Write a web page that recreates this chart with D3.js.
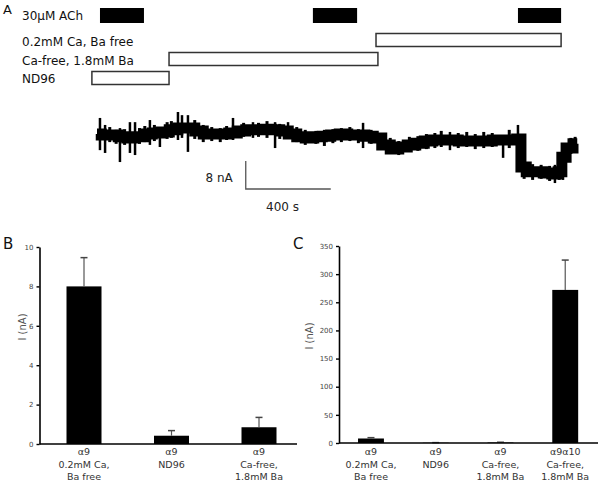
<!DOCTYPE html>
<html><head><meta charset="utf-8">
<script src="https://cdn.jsdelivr.net/npm/d3@7"></script>
<style>body{margin:0;background:#fff} svg{display:block} text{font-family:"DejaVu Sans",sans-serif}</style>
</head><body><svg id="c" width="601" height="484"></svg>
<script>
// ---------- Panel A data ----------
const traceTime = [0,40,80,120,160,200,240,280,320,360,400,440,480,520,560,600,640,680,720,760,800,840,880,920,960,1000,1040,1080,1120,1160,1200,1240,1280,1320,1360,1400,1440,1480,1520,1560,1600,1640,1680,1720,1760,1800,1840,1880,1920,1960,1990,2000,2040,2080,2120,2160,2180,2195,2220,2260];
const traceCurrent = [-0.3,-0.6,-0.6,-1.1,-1.4,-1.1,-0.3,0,0.3,0.9,1.4,1.4,0.6,-0.3,-0.3,-0.3,0,0.6,0.9,0.9,1.1,0.9,0.6,-0.3,-1.1,-1.4,-1.1,-0.9,-0.6,-0.3,-0.6,-0.6,-0.9,-1.4,-3.4,-4.6,-4.0,-3.4,-2.9,-2.3,-2.0,-2.0,-2.0,-2.3,-2.3,-2.3,-2.3,-2.0,-2.0,-2.0,-1.7,-9.7,-11.1,-11.1,-11.4,-11.7,-11.1,-6.9,-4.3,-3.1];
// large spikes: [time s, low nA, high nA]
const traceSpikes = [[14,-4.9,4.3],[38,-5.7,2.3],[108,-8.3,1.4],[155,-5.7,3.1],[179,-6.3,3.1],[249,-3.4,3.7],[296,-4.0,1.4],[381,-2,6.0],[400,-1.4,5.1],[428,-5.4,5.1],[640,-2,4.3],[734,-1.4,3.1],[838,-4.3,3.1],[899,-1.4,3.1],[1252,-4.3,2.9],[1661,-4.9,0.3],[1911,-7.1,-0.6],[1981,-3.4,2.3],[2155,-14.3,-9.1],[2193,-13.4,-3.4]];
// small noise excursions: [time s, low nA, high nA]
const traceNoise = [[60,-2.6,1.7],[90,-3.1,0.9],[130,-3.4,1.1],[200,-3.1,1.4],[225,-2.6,2.0],[270,-2.3,2.3],[330,-1.7,3.1],[350,-1.4,3.4],[460,-1.7,3.7],[500,-2.6,2.3],[540,-2.3,1.7],[580,-2.6,1.4],[610,-2.0,2.0],[690,-1.1,2.9],[760,-1.1,2.9],[800,-1.4,3.4],[860,-1.7,2.6],[940,-2.6,1.7],[980,-3.4,0.9],[1030,-3.1,0.6],[1070,-3.7,0.9],[1110,-2.9,1.1],[1150,-2.6,1.4],[1190,-2.3,1.7],[1230,-2.9,1.1],[1290,-3.1,0.9],[1340,-4.0,0],[1380,-6.0,-1.4],[1420,-6.3,-2.3],[1470,-5.4,-1.1],[1510,-5.1,-0.9],[1550,-4.6,-0.3],[1590,-4.3,0],[1620,-4.0,0.6],[1700,-4.3,0],[1740,-4.0,0.3],[1780,-4.6,-0.3],[1820,-4.3,0.3],[1860,-4.0,0],[1940,-4.3,0.9],[2010,-13.1,-8.6],[2050,-13.4,-8.9],[2090,-13.1,-9.1],[2130,-13.7,-9.4],[2175,-13.4,-9.1],[2230,-6.0,-1.4],[2250,-5.1,-1.1]];
const achPulses = [[14,221],[1016,1224],[1981,2184]];
const solutionNames = ["0.2mM Ca, Ba free","Ca-free, 1.8mM Ba","ND96"];
const solutionPeriods = [[1313,2184],[339,1322],[-24,339]];
const scaleBarCurrent = 8;   // nA
const scaleBarTime = 400;    // s

// ---------- Panel B data ----------
const catB = [["α9","0.2mM Ca,","Ba free"],["α9","ND96"],["α9","Ca-free,","1.8mM Ba"]];
const meanB = [8.0, 0.42, 0.85];
const semB = [1.46, 0.26, 0.5];
const ticksB = [0,2,4,6,8,10];

// ---------- Panel C data ----------
const catC = [["α9","0.2mM Ca,","Ba free"],["α9","ND96"],["α9","Ca-free,","1.8mM Ba"],["α9α10","Ca-free,","1.8mM Ba"]];
const meanC = [8.0, 0.42, 0.85, 272];
const semC = [1.5, 0.26, 0.5, 53];
const ticksC = [0,50,100,150,200,250,300,350];

const svg = d3.select("#c");

// ---------- Panel A ----------
const tx = d3.scaleLinear().domain([0,2260]).range([97,577.25]);
const iy = d3.scaleLinear().domain([-14,6]).range([182,112]);

svg.append("text").attr("x",3).attr("y",14).attr("font-size",13).attr("fill","#111").text("A");
svg.append("text").attr("x",22).attr("y",20).attr("font-size",12).attr("fill","#111").text("30µM ACh");
svg.selectAll("rect.ach").data(achPulses).join("rect").attr("class","ach")
  .attr("x",d=>tx(d[0])).attr("width",d=>tx(d[1])-tx(d[0])).attr("y",8).attr("height",15).attr("fill","#000");

svg.selectAll("text.sol").data(solutionNames).join("text").attr("class","sol")
  .attr("x",22).attr("y",(d,i)=>46+i*18.5).attr("font-size",12).attr("fill","#111").text(d=>d);
svg.selectAll("rect.sol").data(solutionPeriods).join("rect").attr("class","sol")
  .attr("x",d=>tx(d[0])).attr("width",d=>tx(d[1])-tx(d[0])).attr("y",(d,i)=>33.5+i*19).attr("height",13)
  .attr("fill","#fff").attr("stroke","#333").attr("stroke-width",1.5);

const tracePts = traceTime.map((t,i)=>[t,traceCurrent[i]]);
svg.append("path").datum(tracePts)
  .attr("d",d3.line().x(d=>tx(d[0])).y(d=>iy(d[1])).curve(d3.curveStep))
  .attr("fill","none").attr("stroke","#000").attr("stroke-width",11).attr("stroke-linejoin","miter");
svg.selectAll("line.nz").data(traceNoise).join("line").attr("class","nz")
  .attr("x1",d=>tx(d[0])).attr("x2",d=>tx(d[0])).attr("y1",d=>iy(d[1])).attr("y2",d=>iy(d[2]))
  .attr("stroke","#000").attr("stroke-width",3);
svg.selectAll("line.spk").data(traceSpikes).join("line").attr("class","spk")
  .attr("x1",d=>tx(d[0])).attr("x2",d=>tx(d[0])).attr("y1",d=>iy(d[1])).attr("y2",d=>iy(d[2]))
  .attr("stroke","#000").attr("stroke-width",2.5);

// scale bar
const sbT0 = 700, sbI0 = -16;
svg.append("path")
  .attr("d",`M${tx(sbT0)},${iy(sbI0+scaleBarCurrent)}V${iy(sbI0)}H${tx(sbT0+scaleBarTime)}`)
  .attr("fill","none").attr("stroke","#555").attr("stroke-width",1.3);
svg.append("text").attr("x",tx(sbT0)-13).attr("y",182).attr("text-anchor","end").attr("font-size",12).attr("fill","#222").text(scaleBarCurrent+" nA");
svg.append("text").attr("x",266).attr("y",211).attr("font-size",12).attr("fill","#222").text(scaleBarTime+" s");

// ---------- bar chart helper ----------
function barChart(cfg){
  const g = svg.append("g");
  const x = d3.scaleBand().domain(cfg.cats.map((d,i)=>i)).range(cfg.xr).paddingInner(0.6).paddingOuter(0.3);
  const y = d3.scaleLinear().domain([0, cfg.ticks[cfg.ticks.length-1]]).range(cfg.yr);
  g.selectAll("rect").data(cfg.mean).join("rect")
    .attr("x",(d,i)=>x(i)).attr("width",x.bandwidth())
    .attr("y",d=>y(d)).attr("height",d=>y(0)-y(d)).attr("fill","#000");
  const eb = g.selectAll("g.eb").data(cfg.mean).join("g").attr("class","eb");
  eb.append("line").attr("x1",(d,i)=>x(i)+x.bandwidth()/2).attr("x2",(d,i)=>x(i)+x.bandwidth()/2)
    .attr("y1",d=>y(d)).attr("y2",(d,i)=>y(d+cfg.sem[i])).attr("stroke","#555").attr("stroke-width",1.2);
  eb.append("line").attr("x1",(d,i)=>x(i)+x.bandwidth()/2-3.5).attr("x2",(d,i)=>x(i)+x.bandwidth()/2+3.5)
    .attr("y1",(d,i)=>y(d+cfg.sem[i])).attr("y2",(d,i)=>y(d+cfg.sem[i])).attr("stroke","#444").attr("stroke-width",1.5);
  const ax = g.append("g").attr("transform",`translate(${cfg.axX},0)`)
    .call(d3.axisLeft(y).tickValues(cfg.ticks).tickSize(3).tickSizeOuter(0).tickPadding(3));
  ax.select(".domain").attr("stroke","#000").attr("stroke-width",1.6);
  ax.selectAll(".tick line").attr("stroke","#000").attr("stroke-width",1.4);
  ax.selectAll(".tick text").attr("font-family","Liberation Sans, Arial, sans-serif").attr("font-size",7).attr("fill","#444");
  g.append("line").attr("x1",cfg.axX).attr("x2",cfg.xEnd).attr("y1",y(0)).attr("y2",y(0))
    .attr("stroke","#000").attr("stroke-width",1.6);
  const lab = g.selectAll("text.cat").data(cfg.cats).join("text").attr("class","cat")
    .attr("text-anchor","middle").attr("font-size",9.5).attr("fill","#333");
  lab.selectAll("tspan").data((d,i)=>d.map(s=>({s,i}))).join("tspan")
    .attr("x",d=>x(d.i)+x.bandwidth()/2).attr("y",(d,j)=>455+j*12.5).text(d=>d.s);
  g.append("text").attr("transform",`translate(${cfg.labX},${cfg.labY}) rotate(-90)`)
    .attr("text-anchor","middle").attr("font-size",10).attr("fill","#555").text("I (nA)");
  g.append("text").attr("x",cfg.letterX).attr("y",249).attr("font-size",15).attr("fill","#111").text(cfg.letter);
}

barChart({cats:catB, mean:meanB, sem:semB, ticks:ticksB, xr:[40.25,302.75], yr:[444,247], axX:39.5, xEnd:297,
  labX:25.5, labY:327, letter:"B", letterX:3});
barChart({cats:catC, mean:meanC, sem:semC, ticks:ticksC, xr:[338.6,597.6], yr:[443,246], axX:339, xEnd:598,
  labX:313, labY:336, letter:"C", letterX:293});
</script></body></html>
